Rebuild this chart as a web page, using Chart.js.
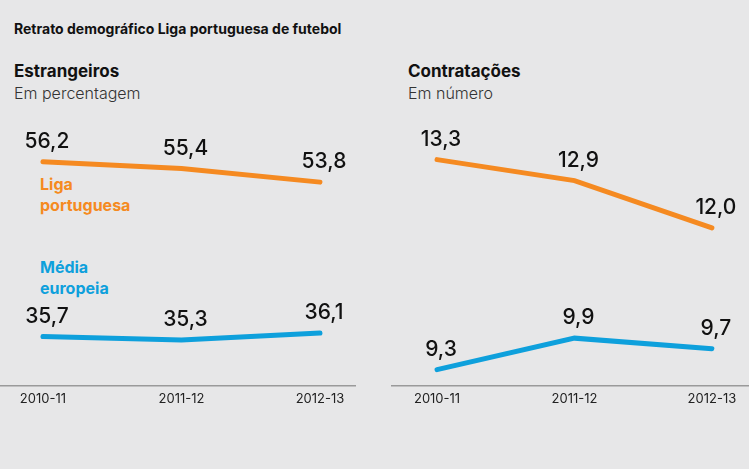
<!DOCTYPE html>
<html>
<head>
<meta charset="utf-8">
<script src="https://cdn.jsdelivr.net/npm/chart.js@4/dist/chart.umd.min.js"></script>
<style>
  html, body { margin: 0; padding: 0; }
  body { width: 749px; height: 469px; background: #e7e7e8; position: relative; overflow: hidden; font-family: Inter, "Noto Sans", sans-serif; color: #111; }
  .txt { position: absolute; white-space: nowrap; }
  .title { left: 14px; top: 20px; font-size: 14px; font-weight: 700; }
  .head { font-size: 17px; font-weight: 700; }
  .sub { font-size: 16px; font-weight: 300; color: #333; }
  .lab { font-size: 16px; font-weight: 700; line-height: 21px; }
  .chart-box { position: absolute; }
</style>
</head>
<body>
<div class="txt title">Retrato demográfico Liga portuguesa de futebol</div>
<div class="txt head" style="left:14px;top:61px">Estrangeiros</div>
<div class="txt sub" style="left:14px;top:83px">Em percentagem</div>
<div class="txt head" style="left:408px;top:61px">Contratações</div>
<div class="txt sub" style="left:408px;top:83px">Em número</div>
<div class="txt lab" style="left:40px;top:174px;color:#f58a21">Liga<br>portuguesa</div>
<div class="txt lab" style="left:40px;top:257px;color:#0ea0dc">Média<br>europeia</div>

<div class="chart-box" style="left:0;top:105px;width:356px;height:308px"><canvas id="leftChart"></canvas></div>
<div class="chart-box" style="left:391px;top:105px;width:358px;height:308px"><canvas id="rightChart"></canvas></div>

<script>
const seasons = ['2010-11', '2011-12', '2012-13'];

const estrangeirosLiga = [56.2, 55.4, 53.8];
const estrangeirosEuropa = [35.7, 35.3, 36.1];

const contratacoesLiga = [13.3, 12.9, 12.0];
const contratacoesEuropa = [9.3, 9.9, 9.7];

const ORANGE = '#f58a21';
const BLUE = '#0ea0dc';

const fmt = v => v.toFixed(1).replace('.', ',');
const toPoints = arr => arr.map((v, i) => ({ x: i, y: v }));

const valueLabels = {
  id: 'valueLabels',
  afterDatasetsDraw(chart) {
    const ctx = chart.ctx;
    ctx.save();
    ctx.font = '500 21px Inter, "Noto Sans", sans-serif';
    ctx.fillStyle = '#111';
    ctx.textAlign = 'center';
    ctx.textBaseline = 'middle';
    chart.data.datasets.forEach((ds, di) => {
      chart.getDatasetMeta(di).data.forEach((pt, i) => {
        ctx.fillText(fmt(ds.data[i].y), pt.x + 4, pt.y - 20);
      });
    });
    ctx.restore();
  }
};

function buildLine(canvasId, liga, europa, xMin, xMax, yMin, yMax) {
  return new Chart(document.getElementById(canvasId), {
    type: 'line',
    data: {
      datasets: [
        { data: toPoints(liga), borderColor: ORANGE, borderWidth: 5, borderCapStyle: 'round', pointRadius: 0, clip: false },
        { data: toPoints(europa), borderColor: BLUE, borderWidth: 5, borderCapStyle: 'round', pointRadius: 0, clip: false }
      ]
    },
    options: {
      responsive: true,
      maintainAspectRatio: false,
      animation: false,
      layout: { padding: 0 },
      plugins: { legend: { display: false }, tooltip: { enabled: false } },
      scales: {
        x: {
          type: 'linear',
          min: xMin,
          max: xMax,
          afterBuildTicks: axis => { axis.ticks = seasons.map((_, i) => ({ value: i })); },
          grid: { display: false, drawTicks: false },
          border: { display: true, color: '#9a9a9a', width: 1.5 },
          ticks: {
            padding: 6,
            color: '#222',
            font: { family: 'Inter, "Noto Sans", sans-serif', size: 13 },
            callback: v => seasons[v] || ''
          }
        },
        y: { display: false, min: yMin, max: yMax }
      }
    },
    plugins: [valueLabels]
  });
}

buildLine('leftChart', estrangeirosLiga, estrangeirosEuropa, -0.31, 2.26, 29.97, 62.84);
buildLine('rightChart', contratacoesLiga, contratacoesEuropa, -0.335, 2.27, 9.0, 14.34);
</script>
</body>
</html>
